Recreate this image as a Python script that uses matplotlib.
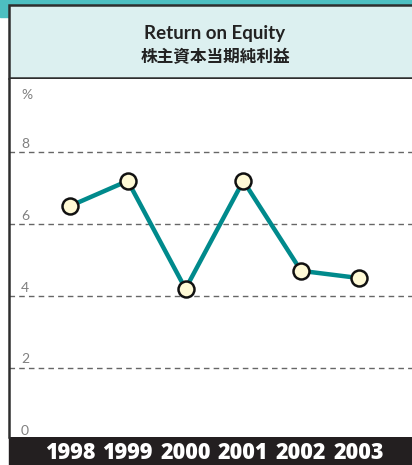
import matplotlib.pyplot as plt
from matplotlib.patches import Rectangle
from matplotlib.transforms import blended_transform_factory

# data
years = ['1998', '1999', '2000', '2001', '2002', '2003']
roe = [6.5, 7.2, 4.2, 7.2, 4.7, 4.5]
y_ticks = [0, 2, 4, 6, 8]
title_en = 'Return on Equity'
title_jp = '株主資本当期純利益'

W, H = 412, 465
fig = plt.figure(figsize=(W / 100, H / 100), dpi=100)
fig.set_facecolor('white')

def fx(px):
    return px / W

def fy(px):
    return 1 - px / H

# teal strips at top / top-left
fig.patches.append(Rectangle((0, fy(5)), 1, fy(0) - fy(5), transform=fig.transFigure,
                             color='#4dbfc1', zorder=-2))
fig.patches.append(Rectangle((0, fy(17)), fx(9), fy(0) - fy(17), transform=fig.transFigure,
                             color='#4dbfc1', zorder=-2))
# header box
fig.patches.append(Rectangle((fx(9), fy(78)), 1.0, fy(5) - fy(78), transform=fig.transFigure,
                             facecolor='#dcf0f0', edgecolor='#2e2e2e', linewidth=1.8, zorder=-1))
fig.text(fx(215), fy(33), title_en, ha='center', va='center', fontsize=13.5,
         family=['Lato', 'Noto Sans CJK JP'], weight='bold', color='#222222')
fig.text(fx(215), fy(57), title_jp, ha='center', va='center', fontsize=12,
         family=['Noto Sans CJK JP', 'DejaVu Sans'], weight='bold', color='#222222')

# black year band
fig.patches.append(Rectangle((fx(9), 0), 1, fy(437), transform=fig.transFigure,
                             color='#231f20', zorder=-1))

# main axes
ax = fig.add_axes([fx(9), fy(437), 1 - fx(9), fy(79) - fy(437)])
ax.set_zorder(2)
ax.set_facecolor('white')
x = list(range(len(years)))
ax.set_xlim(-1.055, 5.92)
ax.set_ylim(0.083, 10.03)

for v in y_ticks[1:]:
    ax.axhline(v, color='#666666', linewidth=1.0, linestyle=(0, (4, 3)), zorder=1)

ax.plot(x, roe, color='#008a8c', linewidth=3.2, zorder=3, solid_capstyle='round')
ax.plot(x, roe, linestyle='none', marker='o', markersize=11.5,
        markerfacecolor='#fffad6', markeredgecolor='#111111', markeredgewidth=1.8, zorder=4)

trans = blended_transform_factory(ax.transAxes, ax.transData)
for v in y_ticks:
    ax.text(fx(25 - 9) / (1 - fx(9)), v + 0.07, str(v), transform=trans, ha='center',
            va='bottom', fontsize=10, color='#808080', family='Lato')
ax.text(fx(27 - 9) / (1 - fx(9)), 0.955, '%', transform=ax.transAxes, ha='center',
        va='center', fontsize=10, color='#808080', family='Lato')

ax.set_xticks(x)
ax.set_xticklabels(years, fontsize=15.5, weight='heavy', color='white', family='Open Sans')
ax.tick_params(axis='x', length=0, pad=3)
ax.set_yticks([])
for side in ['top', 'right', 'bottom']:
    ax.spines[side].set_visible(False)
ax.spines['left'].set_color('#2e2e2e')
ax.spines['left'].set_linewidth(1.8)

fig.savefig('out.png', dpi=100)
